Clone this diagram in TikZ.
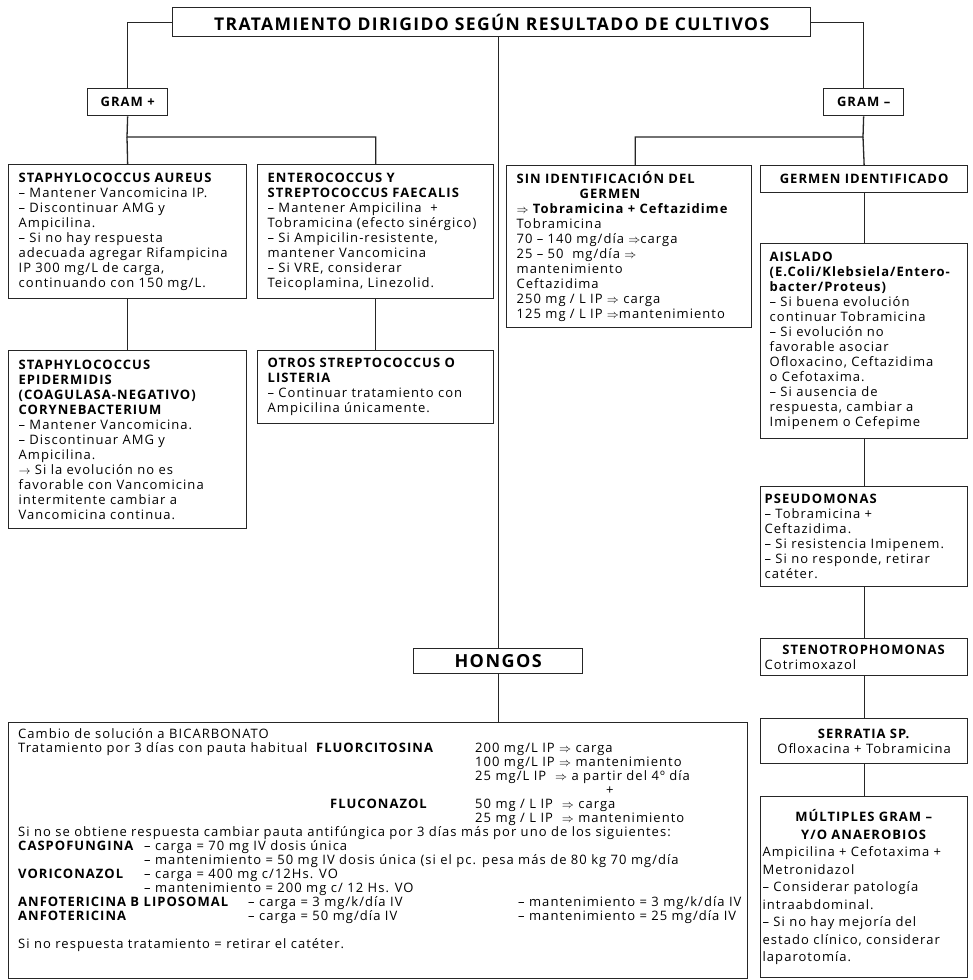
\documentclass[tikz,border=0pt]{standalone}
\usepackage{fontspec}
\setmainfont{Open Sans}[LetterSpace=8]
\newcommand{\dto}{$\Rightarrow$}
\newcommand{\sto}{$\rightarrow$}
\newcommand{\colbox}[2]{\makebox[#1][l]{#2}}
\tikzstyle{box} = [rectangle,
draw=black!85,
line width=1.3pt,
anchor=north west,
inner xsep=10pt,
inner ysep=0pt,
align=left,
font=\fontsize{13}{15}\selectfont]
\tikzstyle{headbox} = [rectangle,
draw=black!85,
line width=1.3pt,
anchor=north west,
inner sep=0pt,
align=center,
font=\bfseries\fontsize{13}{15}\selectfont]
\tikzstyle{link} = [line width=1.3pt, draw=black!85]

\begin{document}
\begin{tikzpicture}[x=1pt, y=-1pt]
    \useasboundingbox (0,0) rectangle (972,980);

    \node (title) [headbox, font=\bfseries\fontsize{17.5}{20}\selectfont, minimum width=638pt, minimum height=29pt] at (172,7) {TRATAMIENTO DIRIGIDO SEGÚN RESULTADO DE CULTIVOS};
    \node (gramplus) [headbox, minimum width=80pt, minimum height=27pt] at (87,88) {GRAM +};
    \node (gramminus) [headbox, minimum width=80pt, minimum height=27pt] at (823,88) {GRAM –};

    \node (aureus) [box, text width=218pt, minimum height=134pt] at (8,164) {\textbf{STAPHYLOCOCCUS AUREUS}\\
    – Mantener Vancomicina IP.\\
    – Discontinuar AMG y\\
    Ampicilina.\\
    – Si no hay respuesta\\
    adecuada agregar Rifampicina\\
    IP 300 mg/L de carga,\\
    continuando con 150 mg/L.};

    \node (entero) [box, text width=216pt, minimum height=134pt] at (257,164) {\textbf{ENTEROCOCCUS Y}\\
    \textbf{STREPTOCOCCUS FAECALIS}\\
    – Mantener Ampicilina \ +\\
    Tobramicina (efecto sinérgico)\\
    – Si Ampicilin-resistente,\\
    mantener Vancomicina\\
    – Si VRE, considerar\\
    Teicoplamina, Linezolid.};

    \node (epidermidis) [box, text width=218pt, minimum height=178pt] at (8,350) {\textbf{STAPHYLOCOCCUS}\\
    \textbf{EPIDERMIDIS}\\
    \textbf{(COAGULASA-NEGATIVO)}\\
    \textbf{CORYNEBACTERIUM}\\
    – Mantener Vancomicina.\\
    – Discontinuar AMG y\\
    Ampicilina.\\
    \sto{} Si la evolución no es\\
    favorable con Vancomicina\\
    intermitente cambiar a\\
    Vancomicina continua.};

    \node (otros) [box, text width=216pt, minimum height=73pt] at (257,350) {\textbf{OTROS STREPTOCOCCUS O}\\
    \textbf{LISTERIA}\\
    – Continuar tratamiento con\\
    Ampicilina únicamente.};

    \node (sinid) [box, text width=225pt, minimum height=162pt] at (506,165) {\textbf{SIN IDENTIFICACIÓN DEL}\\
    \hspace*{63pt}\textbf{GERMEN}\\
    \textbf{\dto{} Tobramicina + Ceftazidime}\\
    Tobramicina\\
    70 – 140 mg/día \dto carga\\
    25 – 50 \ mg/día \dto\\
    mantenimiento\\
    Ceftazidima\\
    250 mg / L IP \dto{} carga\\
    125 mg / L IP \dto mantenimiento};

    \node (germen) [headbox, minimum width=207pt, minimum height=27pt] at (760,165) {GERMEN IDENTIFICADO};

    \node (aislado) [box, inner xsep=9pt, text width=189pt, minimum height=195pt] at (760,243) {\textbf{AISLADO}\\
    \textbf{(E.Coli/Klebsiela/Entero-}\\
    \textbf{bacter/Proteus)}\\
    – Si buena evolución\\
    continuar Tobramicina\\
    – Si evolución no\\
    favorable asociar\\
    Ofloxacino, Ceftazidima\\
    o Cefotaxima.\\
    – Si ausencia de\\
    respuesta, cambiar a\\
    Imipenem o Cefepime};

    \node (pseudo) [box, inner xsep=4pt, text width=199pt, minimum height=100pt] at (760,486) {\textbf{PSEUDOMONAS}\\
    – Tobramicina +\\
    Ceftazidima.\\
    – Si resistencia Imipenem.\\
    – Si no responde, retirar\\
    catéter.};

    \node (steno) [box, inner xsep=4pt, text width=199pt, minimum height=37pt] at (760,638) {\makebox[199pt]{\textbf{STENOTROPHOMONAS}}\\
    Cotrimoxazol};

    \node (serratia) [box, inner xsep=1pt, text width=205pt, minimum height=45pt] at (760,718) {\makebox[205pt]{\textbf{SERRATIA SP.}}\\
    \makebox[205pt]{Ofloxacina + Tobramicina}};

    \node (multiples) [box, inner xsep=2pt, text width=203pt, minimum height=181pt, font=\fontsize{13}{17.5}\selectfont] at (760,796) {\makebox[203pt]{\textbf{MÚLTIPLES GRAM –}}\\
    \makebox[203pt]{\textbf{Y/O ANAEROBIOS}}\\
    Ampicilina + Cefotaxima +\\
    Metronidazol\\
    – Considerar patología\\
    intraabdominal.\\
    – Si no hay mejoría del\\
    estado clínico, considerar\\
    laparotomía.};

    \node (hongos) [headbox, font=\bfseries\fontsize{18}{20}\selectfont, minimum width=169pt, minimum height=25pt] at (413,648) {HONGOS};

    \node (fungbox) [box, text width=719pt, minimum height=256pt] at (8,722) {};
    \node (fungtext) [anchor=north west, inner sep=0pt, align=left, font=\fontsize{13}{14}\selectfont] at ([shift={(10,6)}]fungbox.north west) {Cambio de solución a BICARBONATO\\
    \colbox{457pt}{Tratamiento por 3 días con pauta habitual \ \textbf{FLUORCITOSINA}}200 mg/L IP \dto{} carga\\
    \hspace*{457pt}100 mg/L IP \dto{} mantenimiento\\
    \hspace*{457pt}25 mg/L IP \ \dto{} a partir del 4º día\\
    \hspace*{588pt}+\\
    \colbox{457pt}{\hspace*{312pt}\textbf{FLUCONAZOL}}50 mg / L IP \ \dto{} carga\\
    \hspace*{457pt}25 mg / L IP \ \dto{} mantenimiento\\
    Si no se obtiene respuesta cambiar pauta antifúngica por 3 días más por uno de los siguientes:\\
    \colbox{126pt}{\textbf{CASPOFUNGINA}}– carga = 70 mg IV dosis única\\
    \hspace*{126pt}– mantenimiento = 50 mg IV dosis única (si el pc. pesa más de 80 kg 70 mg/día\\
    \colbox{126pt}{\textbf{VORICONAZOL}}– carga = 400 mg c/12Hs. VO\\
    \hspace*{126pt}– mantenimiento = 200 mg c/ 12 Hs. VO\\
    \colbox{230pt}{\textbf{ANFOTERICINA B LIPOSOMAL}}\colbox{270pt}{– carga = 3 mg/k/día IV}– mantenimiento = 3 mg/k/día IV\\
    \colbox{230pt}{\textbf{ANFOTERICINA}}\colbox{270pt}{– carga = 50 mg/día IV}– mantenimiento = 25 mg/día IV\\[14pt]
    Si no respuesta tratamiento = retirar el catéter.};

    \coordinate (gpsplit) at (127,137);
    \coordinate (gmsplit) at (863,137);

    \draw [link] (title.west) -| (gramplus.north);
    \draw [link] (title.east) -| (gramminus.north);
    \draw [link] (hongos.north |- title.south) -- (hongos.north);
    \draw [link] (gramplus.south) -- (gpsplit) -| (entero.north);
    \draw [link] (gpsplit) -- (aureus.north);
    \draw [link] (gramminus.south) -- (gmsplit) -| ([xshift=6pt]sinid.north);
    \draw [link] (gmsplit) -- (germen.north);
    \draw [link] (aureus.south) -- (epidermidis.north);
    \draw [link] (entero.south) -- (otros.north);
    \draw [link] (germen.south) -- (aislado.north);
    \draw [link] (aislado.south) -- (pseudo.north);
    \draw [link] (pseudo.south) -- (steno.north);
    \draw [link] (steno.south) -- (serratia.north);
    \draw [link] (serratia.south) -- (multiples.north);
    \draw [link] (hongos.south) -- (hongos.south |- fungbox.north);
\end{tikzpicture}
\end{document}
